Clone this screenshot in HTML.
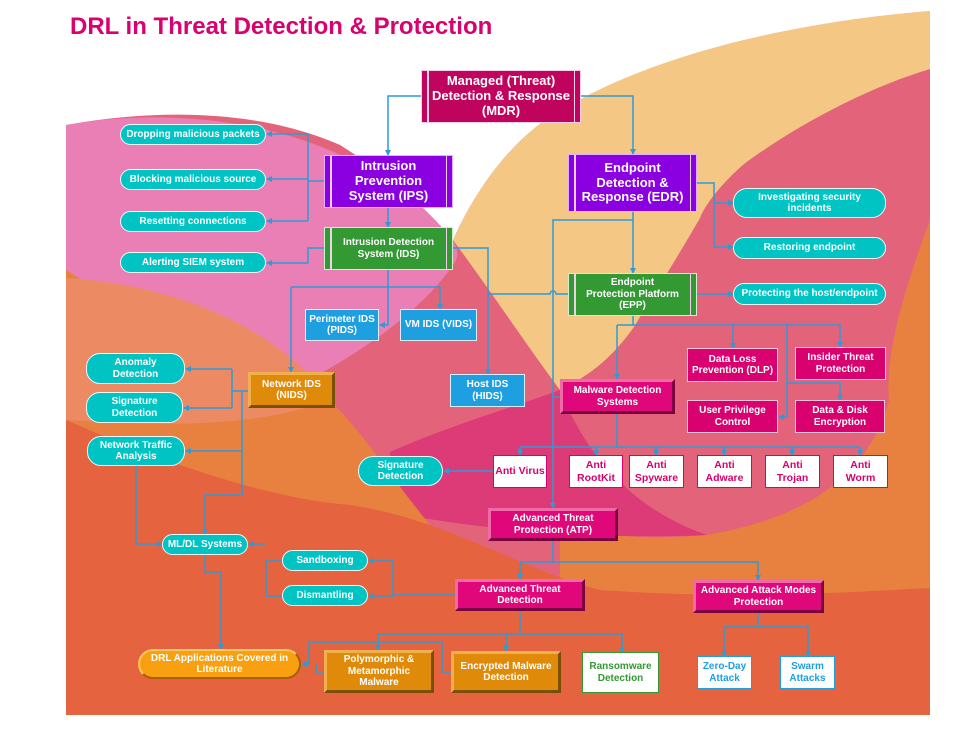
<!DOCTYPE html>
<html><head><meta charset="utf-8">
<style>
*{margin:0;padding:0;box-sizing:border-box}
body{width:970px;height:730px;position:relative;background:#fff;overflow:hidden;font-family:"Liberation Sans",sans-serif;font-weight:bold}
.n{position:absolute;display:flex;align-items:center;justify-content:center;text-align:center;color:#fff;line-height:1.15}
.pill{background:#00C4C4;border:1.5px solid #e8fbfb;border-radius:14px;font-size:10px}
.dbl{border:1.5px solid #f3d0ea}
.dbl::before,.dbl::after{content:"";position:absolute;top:0;bottom:0;width:1.5px;background:#f3d0ea}
.dbl::before{left:5px}.dbl::after{right:5px}
.mag{background:#E0077A;border:3px solid;border-color:#f06aa8 #7a0040 #7a0040 #f06aa8;font-size:10px}
.org{background:#E08A0A;border:3px solid;border-color:#f0b050 #7a5000 #7a5000 #f0b050;font-size:10px}
.blu{background:#1E9FE0;border:1.5px solid #d8eefa;font-size:10px}
.mb{background:#D90070;border:1.5px solid #f5c0dc;font-size:10px}
.wt{background:#fff;color:#D9006F;border:1.5px solid #D9006F;font-size:10.5px}
</style></head><body>
<svg width="970" height="730" style="position:absolute;left:0;top:0">
<defs>
<clipPath id="cp"><rect x="66" y="0" width="864" height="715"/></clipPath>
<marker id="a" markerWidth="6" markerHeight="6" refX="5" refY="3" orient="auto" markerUnits="userSpaceOnUse"><path d="M0,0 L6,3 L0,6 Z" fill="#2E9BD6"/></marker>
</defs>
<g clip-path="url(#cp)">
<rect x="66" y="0" width="864" height="715" fill="#E3637A"/>
<path d="M453,240 C480,180 520,130 570,105 C640,65 760,25 930,11 L930,69 C860,90 790,130 744,164 C720,185 705,205 700,218 C670,270 650,300 634,327 C610,360 590,375 560,390 C530,350 490,290 453,240 Z" fill="#F4C784"/>
<path d="M930,220 C900,300 885,360 889,400 C870,470 816,516 707,535 C650,540 600,535 560,530 L560,600 L930,600 Z" fill="#E8813F"/>
<path d="M66,125 C160,108 300,115 400,190 C440,220 465,245 455,262 C430,300 380,345 280,395 L66,395 Z" fill="#E97FB5"/>
<path d="M390,452 C450,425 520,405 560,390 C580,440 620,505 707,535 C600,540 480,530 390,512 Z" fill="#DD3A78"/>
<path d="M66,270 L66,715 L430,715 L430,525 C385,470 355,420 320,392 L260,395 Z" fill="#E8803F"/>
<path d="M66,278 C180,285 280,330 330,400 C250,430 150,425 66,420 Z" fill="#EC8A64"/>
<path d="M66,420 C180,470 280,500 350,505 C450,520 520,570 600,590 C750,600 850,592 930,588 L930,715 L66,715 Z" fill="#E5633F"/>
<path d="M66,0 L930,0 L930,11 C760,25 640,65 570,105 C520,130 480,180 453,240 C420,200 380,170 340,145 C260,110 160,108 66,125 Z" fill="#fff"/>
</g>
<g fill="none" stroke="#2E9BD6" stroke-width="1.5">
<path d="M421,96 H388 V155" marker-end="url(#a)"/>
<path d="M581,96 H633 V154" marker-end="url(#a)"/>
<path d="M324,181 H308"/><path d="M308,134 V221"/>
<path d="M308,134 H267" marker-end="url(#a)"/>
<path d="M308,179 H267" marker-end="url(#a)"/>
<path d="M308,221 H267" marker-end="url(#a)"/>
<path d="M388,208 V227" marker-end="url(#a)"/>
<path d="M324,248 H308 V263 H267" marker-end="url(#a)"/>
<path d="M388,270 V287"/><path d="M291,287 H440 V309" marker-end="url(#a)"/>
<path d="M388,287 V325 H380" marker-end="url(#a)"/>
<path d="M291,287 V372" marker-end="url(#a)"/>
<path d="M453,248 H488 V374" marker-end="url(#a)"/>
<path d="M488,294 H550 A3,3 0 0 1 556,294 H568"/>
<path d="M697,183 H714 V247 H733" marker-end="url(#a)"/>
<path d="M714,203 H733" marker-end="url(#a)"/>
<path d="M633,212 V273" marker-end="url(#a)"/>
<path d="M633,220 H553 V508" marker-end="url(#a)"/>
<path d="M697,294 H733" marker-end="url(#a)"/>
<path d="M633,316 V325"/><path d="M617,325 H840 V347" marker-end="url(#a)"/>
<path d="M617,325 V379" marker-end="url(#a)"/>
<path d="M733,325 V348" marker-end="url(#a)"/>
<path d="M787,325 V417 H779" marker-end="url(#a)"/>
<path d="M787,383 H840 V400" marker-end="url(#a)"/>
<path d="M560,397 H553"/>
<path d="M617,414 V447"/><path d="M520,447 H860"/>
<path d="M520,447 V455" marker-end="url(#a)"/>
<path d="M596,447 V455" marker-end="url(#a)"/>
<path d="M656,447 V455" marker-end="url(#a)"/>
<path d="M724,447 V455" marker-end="url(#a)"/>
<path d="M792,447 V455" marker-end="url(#a)"/>
<path d="M860,447 V455" marker-end="url(#a)"/>
<path d="M493,471 H444" marker-end="url(#a)"/>
<path d="M553,541 V562"/><path d="M520,562 H758 V580" marker-end="url(#a)"/>
<path d="M520,562 V579" marker-end="url(#a)"/>
<path d="M455,595 H393 V561 H369" marker-end="url(#a)"/>
<path d="M393,596 H369" marker-end="url(#a)"/>
<path d="M282,561 H266 V596 H282"/>
<path d="M266,544 H249" marker-end="url(#a)"/>
<path d="M205,555 V572 H221 V649" marker-end="url(#a)"/>
<path d="M136,466 V544 H162" marker-end="url(#a)"/>
<path d="M248,391 H232"/><path d="M232,369 V408"/>
<path d="M232,369 H186" marker-end="url(#a)"/>
<path d="M232,408 H184" marker-end="url(#a)"/>
<path d="M242,391 V495 H205 V534" marker-end="url(#a)"/>
<path d="M242,451 H186" marker-end="url(#a)"/>
<path d="M520,611 V634"/><path d="M378,634 H622 V652" marker-end="url(#a)"/>
<path d="M378,634 V650" marker-end="url(#a)"/>
<path d="M506,634 V651" marker-end="url(#a)"/>
<path d="M451,672 H442 V642 H309 V664 H302" marker-end="url(#a)"/>
<path d="M324,672 H316 V664"/>
<path d="M758,613 V627"/><path d="M724,627 H808 V656" marker-end="url(#a)"/>
<path d="M724,627 V656" marker-end="url(#a)"/>
</g>
</svg>

<div style="position:absolute;left:70px;top:13px;font-size:24px;color:#D9006F;font-weight:bold">DRL in Threat Detection &amp; Protection</div>

<div class="n dbl" style="left:421px;top:70px;width:160px;height:53px;background:#C0045E;font-size:13px">Managed (Threat)<br>Detection &amp; Response<br>(MDR)</div>
<div class="n dbl" style="left:324px;top:155px;width:129px;height:53px;background:#8B00E0;font-size:13px;border-color:#e0b0ff">Intrusion<br>Prevention<br>System (IPS)</div>
<div class="n dbl" style="left:568px;top:154px;width:129px;height:58px;background:#8B00E0;font-size:13px;border-color:#e0b0ff">Endpoint<br>Detection &amp;<br>Response (EDR)</div>
<div class="n dbl" style="left:324px;top:227px;width:129px;height:43px;background:#339933;font-size:10px;border-color:#d0f0d0">Intrusion Detection<br>System (IDS)</div>
<div class="n dbl" style="left:568px;top:273px;width:129px;height:43px;background:#339933;font-size:10px;border-color:#d0f0d0">Endpoint<br>Protection Platform<br>(EPP)</div>

<div class="n pill" style="left:120px;top:124px;width:146px;height:21px">Dropping malicious packets</div>
<div class="n pill" style="left:120px;top:169px;width:146px;height:21px">Blocking malicious source</div>
<div class="n pill" style="left:120px;top:211px;width:146px;height:21px">Resetting connections</div>
<div class="n pill" style="left:120px;top:252px;width:146px;height:21px">Alerting SIEM system</div>
<div class="n pill" style="left:733px;top:188px;width:153px;height:30px">Investigating security<br>incidents</div>
<div class="n pill" style="left:733px;top:237px;width:153px;height:22px">Restoring endpoint</div>
<div class="n pill" style="left:733px;top:283px;width:153px;height:22px">Protecting the host/endpoint</div>

<div class="n blu" style="left:305px;top:309px;width:74px;height:32px">Perimeter IDS<br>(PIDS)</div>
<div class="n blu" style="left:400px;top:309px;width:77px;height:32px">VM IDS (VIDS)</div>
<div class="n blu" style="left:450px;top:374px;width:75px;height:33px">Host IDS<br>(HIDS)</div>
<div class="n org" style="left:248px;top:372px;width:87px;height:36px">Network IDS<br>(NIDS)</div>

<div class="n pill" style="left:86px;top:353px;width:99px;height:31px">Anomaly<br>Detection</div>
<div class="n pill" style="left:86px;top:392px;width:97px;height:31px">Signature<br>Detection</div>
<div class="n pill" style="left:87px;top:436px;width:98px;height:30px">Network Traffic<br>Analysis</div>

<div class="n mag" style="left:560px;top:379px;width:115px;height:35px">Malware Detection<br>Systems</div>
<div class="n mb" style="left:687px;top:348px;width:91px;height:34px">Data Loss<br>Prevention (DLP)</div>
<div class="n mb" style="left:795px;top:347px;width:91px;height:33px">Insider Threat<br>Protection</div>
<div class="n mb" style="left:687px;top:400px;width:91px;height:33px">User Privilege<br>Control</div>
<div class="n mb" style="left:795px;top:400px;width:90px;height:33px">Data &amp; Disk<br>Encryption</div>

<div class="n wt" style="left:493px;top:455px;width:54px;height:33px">Anti Virus</div>
<div class="n wt" style="left:569px;top:455px;width:54px;height:33px">Anti<br>RootKit</div>
<div class="n wt" style="left:629px;top:455px;width:55px;height:33px">Anti<br>Spyware</div>
<div class="n wt" style="left:697px;top:455px;width:55px;height:33px">Anti<br>Adware</div>
<div class="n wt" style="left:765px;top:455px;width:55px;height:33px">Anti<br>Trojan</div>
<div class="n wt" style="left:833px;top:455px;width:55px;height:33px">Anti<br>Worm</div>
<div class="n pill" style="left:358px;top:456px;width:85px;height:30px;border-radius:15px">Signature<br>Detection</div>

<div class="n mag" style="left:488px;top:508px;width:130px;height:33px">Advanced Threat<br>Protection (ATP)</div>
<div class="n pill" style="left:162px;top:534px;width:86px;height:21px">ML/DL Systems</div>
<div class="n pill" style="left:282px;top:550px;width:86px;height:21px">Sandboxing</div>
<div class="n pill" style="left:282px;top:585px;width:86px;height:21px">Dismantling</div>
<div class="n mag" style="left:455px;top:579px;width:130px;height:32px">Advanced Threat<br>Detection</div>
<div class="n mag" style="left:693px;top:580px;width:131px;height:33px">Advanced Attack Modes<br>Protection</div>

<div class="n" style="left:138px;top:649px;width:163px;height:30px;background:#F9A010;border:2px solid;border-color:#fcc860 #a86000 #a86000 #fcc860;border-radius:15px;font-size:10px">DRL Applications Covered in<br>Literature</div>
<div class="n org" style="left:324px;top:650px;width:110px;height:43px">Polymorphic &amp;<br>Metamorphic<br>Malware</div>
<div class="n org" style="left:451px;top:651px;width:110px;height:42px">Encrypted Malware<br>Detection</div>
<div class="n" style="left:582px;top:652px;width:77px;height:41px;background:#fff;color:#339933;border:1.5px solid #339933;font-size:10px">Ransomware<br>Detection</div>
<div class="n" style="left:697px;top:656px;width:55px;height:33px;background:#fff;color:#1E9FE0;border:1.5px solid #1E9FE0;font-size:10px">Zero-Day<br>Attack</div>
<div class="n" style="left:780px;top:656px;width:55px;height:33px;background:#fff;color:#1E9FE0;border:1.5px solid #1E9FE0;font-size:10px">Swarm<br>Attacks</div>
</body></html>
